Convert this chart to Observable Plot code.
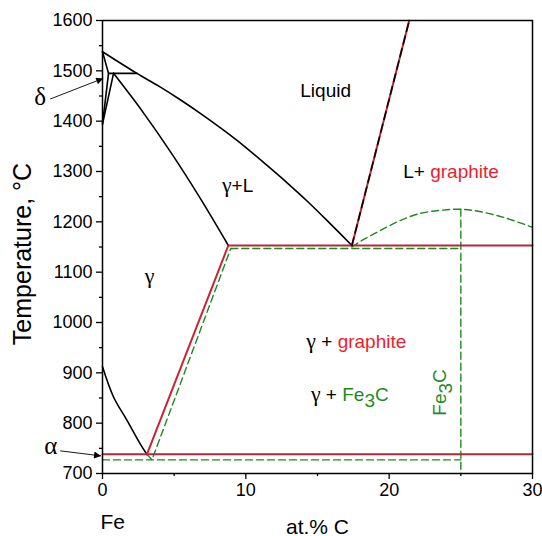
<!DOCTYPE html>
<html>
<head>
<meta charset="utf-8">
<script src="https://cdn.jsdelivr.net/npm/d3@7"></script>
<script src="https://cdn.jsdelivr.net/npm/@observablehq/plot@0.6"></script>
<style>
  html, body { margin: 0; padding: 0; background: #fff; }
  #chart svg { display: block; }
</style>
</head>
<body>
<div id="chart"></div>
<script>
// ---- data (x = at.% C, y = temperature °C) ----
const xTicks = [0, 10, 20, 30];
const xMinorTicks = [5, 15, 25];
const yTicks = [700, 800, 900, 1000, 1100, 1200, 1300, 1400, 1500, 1600];
const yMinorTicks = [750, 850, 950, 1050, 1150, 1250, 1350, 1450, 1550];

// common boundaries (black)
const liquidus = [[0,1538],[2.4,1495],[3.9,1470],[5.4,1443],[6.9,1414],[8.4,1383],[9.9,1350],[11.4,1314],[12.9,1277],[14.4,1238],[15.9,1196],[17.4,1153]];
const solidus = [[0.77,1495],[2.77,1420],[4.77,1338],[6.77,1249],[8.78,1153]];
const deltaSolidus = [[0,1538],[0.42,1495]];
const deltaGammaA = [[0,1394],[0.42,1495]];
const deltaGammaB = [[0,1394],[0.77,1495]];
const peritectic = [[0.42,1495],[2.4,1495]];
const a3Line = [[0,912],[0.77,852],[1.7,806],[2.63,759],[3.1,738]];

// graphite (stable) system (red)
const acmGraphite = [[3.1,738],[8.78,1153]];
const eutecticGraphite = [[8.78,1153],[30,1153]];
const eutectoidGraphite = [[0,738],[30,738]];
const liquidusGraphite = [[17.4,1153],[21.4,1600]];

// cementite (metastable) system (green dashed)
const acmCementite = [[3.1,738],[3.45,727],[8.95,1147]];
const eutecticCementite = [[8.95,1147],[25,1147]];
const eutectoidCementite = [[0,727],[25,727]];
const fe3cLine = [[25,1225],[25,700]];
const liquidusCementite = [[17.4,1150],[18.1,1163],[19.4,1183],[20.8,1203],[22.2,1217],[23.6,1223],[25,1225],[26.4,1220],[28.2,1207],[30,1189]];

// region labels
const labels = [
  {x: 13.8, y: 1448, text: "Liquid"},
  {x: 8.33, y: 1260, text: "γ+L"},
  {x: 2.95, y: 1078, text: "γ"},
  {x: 20.98, y: 1288, text: "L+ graphite"},
  {x: 14.22, y: 950, text: "γ + graphite"},
  {x: 14.54, y: 845, text: "γ + Fe3C"}
];
const fe3cLabel = [{x: 23.98, y: 861, text: "Fe3C"}];
const greekLabels = [
  {x: -4.35, y: 1448, text: "δ"},
  {x: -3.61, y: 754, text: "α"}
];
const pointers = [
  {x1: -3.65, y1: 1444, x2: 0.05, y2: 1485},
  {x1: -2.95, y1: 745, x2: -0.1, y2: 735}
];

// ---- styles ----
const SANS = "'Liberation Sans', Arial, sans-serif";
const SERIF = "'Liberation Serif', 'Times New Roman', serif";
const BLACK = "#000";
const RED_LINE = "#cc2233";
const RED_HLINE = "#b02a3a";
const RED_TEXT = "#ee1c2e";
const GREEN = "#1e8a1e";

const blackLine = (pts, curve = "linear") => Plot.line(pts, {x: d => d[0], y: d => d[1], stroke: BLACK, strokeWidth: 1.6, curve});
const redLine = (pts, c = RED_LINE) => Plot.line(pts, {x: d => d[0], y: d => d[1], stroke: c, strokeWidth: 2});
const greenLine = (pts, curve = "linear") => Plot.line(pts, {x: d => d[0], y: d => d[1], stroke: GREEN, strokeWidth: 1.4, strokeDasharray: "7,4", curve});

const chart = Plot.plot({
  width: 542,
  height: 536,
  marginLeft: 102,
  marginRight: 10,
  marginTop: 20,
  marginBottom: 63,
  style: {fontFamily: SANS, fontSize: "18px", color: "#000", background: "#fff", overflow: "visible"},
  x: {domain: [0, 30], label: null},
  y: {domain: [700, 1600], label: null},
  marks: [
    // green dashed (metastable)
    greenLine(acmCementite),
    greenLine(eutecticCementite),
    greenLine(eutectoidCementite),
    greenLine(fe3cLine),
    greenLine(liquidusCementite, "catmull-rom"),
    // black boundaries
    blackLine(liquidus, "catmull-rom"),
    blackLine(solidus, "catmull-rom"),
    blackLine(deltaSolidus),
    blackLine(deltaGammaA),
    blackLine(deltaGammaB),
    blackLine(peritectic),
    blackLine(a3Line, "catmull-rom"),
    // red (stable graphite)
    redLine(acmGraphite),
    redLine(eutecticGraphite, RED_HLINE),
    redLine(eutectoidGraphite, RED_HLINE),
    redLine(liquidusGraphite),
    Plot.line(liquidusGraphite, {x: d => d[0], y: d => d[1], stroke: BLACK, strokeWidth: 1.6, strokeDasharray: "8,5"}),
    // frame and axes
    Plot.frame({stroke: BLACK, strokeWidth: 1.5}),
    Plot.axisX({ticks: xTicks, tickSize: 6, tickPadding: 4, fontSize: 18, strokeWidth: 1.3, tickFormat: d => String(d), label: null}),
    Plot.axisX({ticks: xMinorTicks, tickSize: 3, tickFormat: () => "", strokeWidth: 1.3, label: null}),
    Plot.axisY({ticks: yTicks, tickSize: 6, tickPadding: 4, fontSize: 18, strokeWidth: 1.3, tickFormat: d => String(d), label: null}),
    Plot.axisY({ticks: yMinorTicks, tickSize: 3, tickFormat: () => "", strokeWidth: 1.3, label: null}),
    // axis titles
    Plot.text(["Temperature, °C"], {frameAnchor: "left", textAnchor: "middle", dx: -80, dy: 7, rotate: -90, fontSize: 25, fill: BLACK}),
    Plot.text(["at.% C"], {frameAnchor: "bottom", textAnchor: "middle", dy: 60, lineAnchor: "bottom", fontSize: 21, fill: BLACK}),
    Plot.text(["Fe"], {frameAnchor: "bottom-left", dx: -2, dy: 55, textAnchor: "start", lineAnchor: "bottom", fontSize: 21, fill: BLACK}),
    // pointers
    Plot.link(pointers, {x1: "x1", y1: "y1", x2: "x2", y2: "y2", stroke: BLACK, strokeWidth: 0.9}),
    // labels
    Plot.text(labels, {x: "x", y: "y", text: "text", textAnchor: "start", lineAnchor: "bottom", fontSize: 19, fill: BLACK}),
    Plot.text(fe3cLabel, {x: "x", y: "y", text: "text", rotate: -90, textAnchor: "middle", lineAnchor: "bottom", fontSize: 19, fill: GREEN}),
    Plot.text(greekLabels, {x: "x", y: "y", text: "text", fontSize: 25, fontFamily: SERIF, fill: BLACK})
  ]
});

const svg = d3.select(chart);
// arrowhead marker for the δ / α pointers
const defs = svg.insert("defs", ":first-child");
defs.append("marker")
  .attr("id", "ahead").attr("viewBox", "0 0 10 10").attr("refX", 10).attr("refY", 5)
  .attr("markerWidth", 8).attr("markerHeight", 7).attr("markerUnits", "userSpaceOnUse")
  .attr("orient", "auto")
  .append("path").attr("d", "M0,0L10,5L0,10z").attr("fill", BLACK);
svg.selectAll('g[aria-label="link"] path').attr("marker-end", "url(#ahead)");

// mixed-colour labels
svg.selectAll("text").filter(function() {
  return this.childElementCount === 0 && /graphite|Fe3C|γ/.test(this.textContent);
}).each(function() {
  const t = d3.select(this);
  const s = t.text();
  t.text(null);
  const tokens = s.split(/(graphite|Fe3C|[γδα])/).filter(d => d);
  for (const tok of tokens) {
    if (tok === "graphite") {
      t.append("tspan").attr("fill", RED_TEXT).text(tok);
    } else if (tok === "Fe3C") {
      t.append("tspan").attr("fill", GREEN).text("Fe");
      t.append("tspan").attr("fill", GREEN).attr("dy", 6).text("3");
      t.append("tspan").attr("fill", GREEN).attr("dy", -6).text("C");
    } else if (/[γδα]/.test(tok)) {
      t.append("tspan").attr("font-family", SERIF).attr("font-size", "1.15em").text(tok);
    } else {
      t.append("tspan").text(tok);
    }
  }
});

document.getElementById("chart").appendChild(chart);
</script>
</body>
</html>
